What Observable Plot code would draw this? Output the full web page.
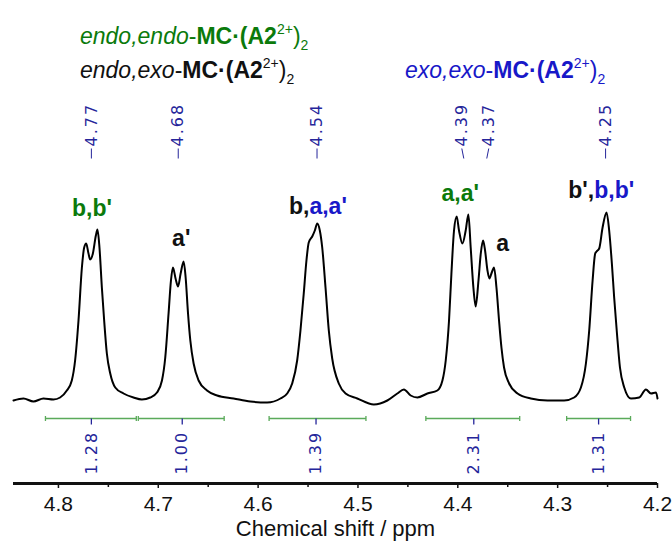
<!DOCTYPE html>
<html><head><meta charset="utf-8">
<script src="https://cdn.jsdelivr.net/npm/d3@7"></script>
<script src="https://cdn.jsdelivr.net/npm/@observablehq/plot@0.6"></script>
<style>
body{margin:0;background:#fff;font-family:"Liberation Sans",Arial,sans-serif;}
#head{position:relative;height:88px;width:672px;}
.h{position:absolute;font-size:23px;white-space:nowrap;line-height:1;}
.h .sp{font-size:14px;position:relative;top:-10px;}
.h .sb{font-size:14px;position:relative;top:6px;}
</style>
</head><body>
<div id="head">
  <div class="h" style="left:80px;top:25px;color:#0b7a0b"><i>endo,endo</i>-<b>MC·(A2</b><span class="sp">2+</span>)<span class="sb">2</span></div>
  <div class="h" style="left:80px;top:59px;color:#111"><i>endo,exo</i>-<b>MC·(A2</b><span class="sp">2+</span>)<span class="sb">2</span></div>
  <div class="h" style="left:405px;top:59px;color:#1818c8"><i>exo,exo</i>-<b>MC·(A2</b><span class="sp">2+</span>)<span class="sb">2</span></div>
</div>
<div id="chart"></div>
<script>
// spectrum (chemical shift in ppm, intensity in arbitrary units, baseline = 0)
const shiftPpm = [4.845,4.835,4.825,4.815,4.805,4.7983,4.7916,4.7866,4.7833,4.7799,4.7765,4.7742,4.7722,4.7699,4.7682,4.7655,4.7625,4.7609,4.7589,4.7565,4.7542,4.7515,4.7481,4.7431,4.7348,4.7248,4.7164,4.7080,4.7013,4.6963,4.6930,4.6897,4.6873,4.6853,4.6827,4.6802,4.6776,4.6746,4.6726,4.6702,4.6679,4.6646,4.6596,4.6512,4.6411,4.6245,4.6077,4.5910,4.5776,4.5709,4.5659,4.5609,4.5576,4.5543,4.5516,4.5493,4.5458,4.5432,4.5408,4.5382,4.5358,4.5325,4.5292,4.5258,4.5192,4.5124,4.5007,4.4841,4.4706,4.4606,4.4540,4.4472,4.4405,4.4305,4.4205,4.4154,4.4121,4.4088,4.4064,4.4038,4.4011,4.3988,4.3954,4.3921,4.3894,4.3871,4.3844,4.3821,4.3793,4.3770,4.3747,4.3727,4.3703,4.3683,4.3660,4.3637,4.3613,4.3587,4.3563,4.3537,4.3486,4.3402,4.3269,4.3101,4.2935,4.2835,4.2767,4.2717,4.2684,4.2650,4.2624,4.2610,4.2584,4.2550,4.2510,4.2484,4.2457,4.2434,4.2406,4.2376,4.2333,4.2266,4.2183,4.2116,4.2065,4.2015,4.2];
const intensity = [0,2,-1,2,1,3,10,20,40,80,133,153,157,147,141,147,165,171,153,113,80,47,27,13,7,3,1,3,8,20,43,87,120,133,122,114,127,139,123,87,60,37,20,10,5,2,-1,-2,2,7,17,40,70,107,140,158,164,170,177,170,153,113,70,42,17,7,2,-4,0,7,11,5,3,7,10,20,40,80,127,170,184,170,157,170,186,153,113,94,120,147,160,150,130,122,128,133,113,80,53,33,17,7,2,0,0,3,13,37,70,120,147,149,152,173,188,170,137,103,67,33,13,2,3,11,7,8,2];

// peak picking labels
const peakText = ["4.77","4.68","4.54","4.39","4.37","4.25"];
const peakLabelPpm = [4.767,4.680,4.541,4.396,4.369,4.252];
const peakPpm = [4.767,4.680,4.541,4.394,4.371,4.252];

// integrals
const integralText = ["1.28","1.00","1.39","2.31","1.31"];
const integralFrom = [4.813,4.720,4.589,4.432,4.291];
const integralTo = [4.722,4.634,4.492,4.338,4.227];
const integralMid = [4.767,4.676,4.542,4.384,4.259];

// assignments
const groups = ["endo,endo","endo,exo","exo,exo"];
const groupColors = ["#0b7a0b","#111111","#1818c8"];
const annText = ["b,b'","a'","b,","a,a'","a,a'","a","b',","b,b'"];
const annGroup = ["endo,endo","endo,exo","endo,exo","exo,exo","endo,endo","endo,exo","endo,exo","exo,exo"];
const annPpm = [4.7664,4.677,4.5486,4.5486,4.3976,4.355,4.2634,4.2634];
const annHeight = [192,162,194,194,207,157,210,210];
const annPart = ["whole","whole","first","second","whole","whole","first","second"];

const majorTicks = [4.8,4.7,4.6,4.5,4.4,4.3,4.2];
const minorTicks = [4.75,4.65,4.55,4.45,4.35,4.25];

const spectrum = shiftPpm.map((x,i)=>({x, y: intensity[i]}));
const peaks = peakText.map((t,i)=>({t, lx: peakLabelPpm[i], px: peakPpm[i]}));
const integrals = integralText.map((t,i)=>({t, x1: integralFrom[i], x2: integralTo[i], xm: integralMid[i]}));
const ann = annText.map((t,i)=>({t, g: annGroup[i], x: annPpm[i], y: annHeight[i], part: annPart[i]}));
const navy = "#25259a";
const green = "#5aaa5a";
const barY = -18;

const annStyle = {x:"x", y:"y", text:"t", fill:"g", fontWeight:"bold", fontSize:23, lineAnchor:"middle"};

const chart = Plot.plot({
  width: 672, height: 453,
  marginTop: 0, marginBottom: 58, marginLeft: 13, marginRight: 15,
  x: {domain: [4.845, 4.2], label: null},
  y: {domain: [-83, 312], axis: null},
  color: {domain: groups, range: groupColors},
  style: {fontFamily: "Liberation Sans, Arial, sans-serif", fontSize: "20px", color: "#111", background: "#fff", overflow: "visible"},
  marks: [
    Plot.axisX({ticks: minorTicks, tickFormat: () => "", tickSize: 4, strokeWidth: 1.5, label: null}),
    Plot.axisX({ticks: majorTicks, tickFormat: d3.format(".1f"), tickSize: 5, tickPadding: 8, strokeWidth: 1.5, fontSize: 21, label: null}),
    Plot.ruleY([-83], {strokeWidth: 3}),
    Plot.text(["Chemical shift / ppm"], {frameAnchor: "bottom", dy: 45, fontSize: 22, lineAnchor: "middle"}),
    Plot.line(spectrum, {x:"x", y:"y", curve:"monotone-x", stroke:"#000", strokeWidth: 2}),
    // peak labels
    Plot.text(peaks, {x:"lx", text:"t", frameAnchor:"top", dy: 58, rotate:-90, textAnchor:"start", lineAnchor:"middle", fill: navy, fontSize: 16, fontFamily:"DejaVu Sans"}),
    Plot.link(peaks, {x1:"lx", x2:"px", y1: () => 252, y2: () => 242, stroke: navy, strokeWidth: 1}),
    // integrals
    Plot.link(integrals, {x1:"x1", x2:"x2", y1: () => barY, y2: () => barY, stroke: green, strokeWidth: 1.3}),
    Plot.link(integrals, {x1:"x1", x2:"x1", y1: () => barY+2.5, y2: () => barY-2.5, stroke: green, strokeWidth: 1.3}),
    Plot.link(integrals, {x1:"x2", x2:"x2", y1: () => barY+2.5, y2: () => barY-2.5, stroke: green, strokeWidth: 1.3}),
    Plot.link(integrals, {x1:"xm", x2:"xm", y1: () => barY, y2: () => barY-6, stroke: navy, strokeWidth: 1.3}),
    Plot.text(integrals, {x:"xm", text:"t", frameAnchor:"bottom", dy: -9, rotate:-90, textAnchor:"start", lineAnchor:"middle", fill: navy, fontSize: 16, fontFamily:"DejaVu Sans"}),
    // assignments
    Plot.text(ann.filter(d=>d.part==="whole"), {...annStyle, textAnchor:"middle"}),
    Plot.text(ann.filter(d=>d.part==="first"), {...annStyle, textAnchor:"end"}),
    Plot.text(ann.filter(d=>d.part==="second"), {...annStyle, textAnchor:"start"})
  ]
});
chart.querySelectorAll("text").forEach(t => {
  if (/^\d\.\d\d$/.test(t.textContent)) t.setAttribute("letter-spacing", "2");
});
document.getElementById("chart").appendChild(chart);
</script>
</body></html>
